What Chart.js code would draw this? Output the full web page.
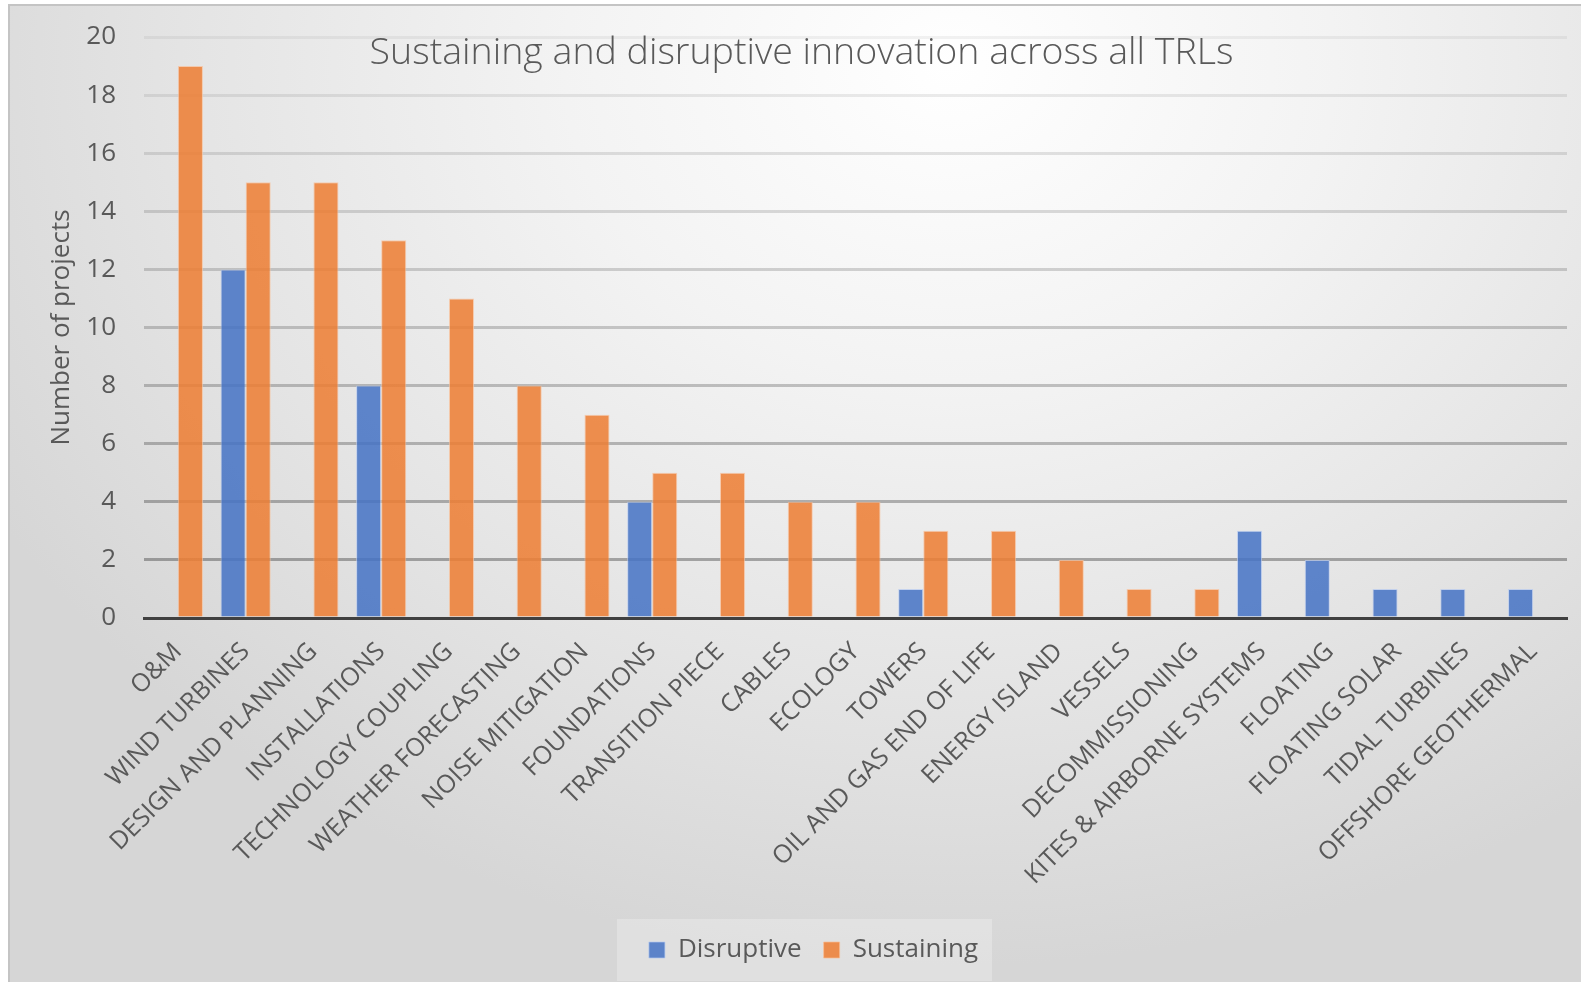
<!DOCTYPE html>
<html>
<head>
<meta charset="utf-8">
<script src="https://cdn.jsdelivr.net/npm/chart.js@4.4.1/dist/chart.umd.min.js"></script>
<style>
    html, body { margin: 0; padding: 0; width: 1581px; height: 982px; overflow: hidden; background: #ffffff; }
    #frame {
        position: absolute; left: 8px; top: 4px; width: 1600px; height: 1000px;
        border-left: 2px solid #c4c4c4; border-top: 2px solid #c4c4c4;
        background: radial-gradient(ellipse 1100px 900px at 940px 60px, #ffffff 0%, #f3f3f3 35%, #e4e4e4 70%, #d6d6d6 100%);
    }
    #chart-title {
        position: absolute; left: 0; width: 1603px; top: 24px; text-align: center;
        font-family: "Open Sans", sans-serif; font-weight: 300; font-size: 37.5px; color: #595959;
    }
    #chart-wrap { position: absolute; left: 0; top: 0; width: 1581px; height: 982px; }
</style>
</head>
<body>
<div id="frame"></div>
<div id="chart-wrap"><canvas id="innovation-chart" width="1581" height="982"></canvas></div>
<div id="chart-title">Sustaining and disruptive innovation across all TRLs</div>
<script>
// --- 데이터 ---
const categories = [
    "O&M", "WIND TURBINES", "DESIGN AND PLANNING", "INSTALLATIONS", "TECHNOLOGY COUPLING",
    "WEATHER FORECASTING", "NOISE MITIGATION", "FOUNDATIONS", "TRANSITION PIECE", "CABLES",
    "ECOLOGY", "TOWERS", "OIL AND GAS END OF LIFE", "ENERGY ISLAND", "VESSELS",
    "DECOMMISSIONING", "KITES & AIRBORNE SYSTEMS", "FLOATING", "FLOATING SOLAR",
    "TIDAL TURBINES", "OFFSHORE GEOTHERMAL"
];
// null = no bar in the original
const disruptive = [null, 12, null, 8, null, null, null, 4, null, null, null, 1, null, null, null, null, 3, 2, 1, 1, 1];
const sustaining = [19, 15, 15, 13, 11, 8, 7, 5, 5, 4, 4, 3, 3, 2, 1, 1, null, null, null, null, null];
const yTicks = [0, 2, 4, 6, 8, 10, 12, 14, 16, 18, 20];

const textColor = "#595959";
const fontFamily = "'Open Sans', sans-serif";

// legend 뒤에 옅은 박스 그리기
const legendBoxPlugin = {
    id: "legendBox",
    beforeDraw(chart) {
        const boxes = chart.legend && chart.legend.legendHitBoxes;
        if (!boxes || !boxes.length) return;
        const ctx = chart.ctx;
        const left = Math.min(...boxes.map(b => b.left)) - 32;
        const right = Math.max(...boxes.map(b => b.left + b.width)) + 14;
        const top = Math.min(...boxes.map(b => b.top)) - 18;
        const bottom = Math.max(...boxes.map(b => b.top + b.height)) + 18;
        ctx.save();
        ctx.fillStyle = "rgba(255,255,255,0.25)";
        ctx.fillRect(left, top, right - left, bottom - top);
        ctx.restore();
    }
};

// 아래쪽 격자선일수록 진하게 (원본의 그림자 느낌)
function gridColor(c) {
    const v = c.tick ? c.tick.value : 0;
    const alpha = 0.30 - (v - 2) / 18 * 0.25;
    return `rgba(0,0,0,${alpha.toFixed(3)})`;
}

const ctx = document.getElementById("innovation-chart").getContext("2d");
new Chart(ctx, {
    type: "bar",
    data: {
        labels: categories,
        datasets: [
            {
                label: "Disruptive",
                data: disruptive,
                backgroundColor: "rgba(68,114,196,0.85)",
                borderColor: "rgba(180,200,240,0.7)",
                borderWidth: 1
            },
            {
                label: "Sustaining",
                data: sustaining,
                backgroundColor: "rgba(237,125,49,0.85)",
                borderColor: "rgba(250,190,150,0.7)",
                borderWidth: 1
            }
        ]
    },
    options: {
        responsive: false,
        animation: false,
        layout: { padding: { left: 60, right: 14, top: 37, bottom: 9 } },
        datasets: { bar: { categoryPercentage: 0.74, barPercentage: 1.0 } },
        plugins: {
            title: { display: false },
            tooltip: { enabled: false },
            legend: {
                position: "bottom",
                labels: {
                    color: textColor,
                    font: { family: fontFamily, size: 26 },
                    boxWidth: 16,
                    boxHeight: 16,
                    padding: 22
                }
            }
        },
        scales: {
            x: {
                grid: { display: false, drawTicks: false },
                border: { display: true, color: "#404040", width: 3, z: 1 },
                ticks: {
                    color: textColor,
                    font: { family: fontFamily, size: 25 },
                    maxRotation: 45,
                    minRotation: 45,
                    autoSkip: false,
                    padding: 19
                },
                afterFit(scale) { scale.height = 297; }
            },
            y: {
                min: 0,
                max: 20,
                afterBuildTicks(scale) { scale.ticks = yTicks.map(v => ({ value: v })); },
                grid: {
                    drawTicks: false,
                    color: gridColor,
                    lineWidth: 3
                },
                border: { display: false },
                ticks: {
                    color: textColor,
                    font: { family: fontFamily, size: 26 },
                    padding: 28
                },
                title: {
                    display: true,
                    text: "Number of projects",
                    color: textColor,
                    font: { family: fontFamily, size: 26 },
                    padding: { top: -14, bottom: 0 }
                },
                afterFit(scale) {
                    scale.width = 84;
                    // 눈금 글자 때문에 생기는 위/아래 여백 제거
                    scale.paddingTop = 0;
                    scale.paddingBottom = 0;
                }
            }
        }
    },
    plugins: [legendBoxPlugin]
});
</script>
</body>
</html>
